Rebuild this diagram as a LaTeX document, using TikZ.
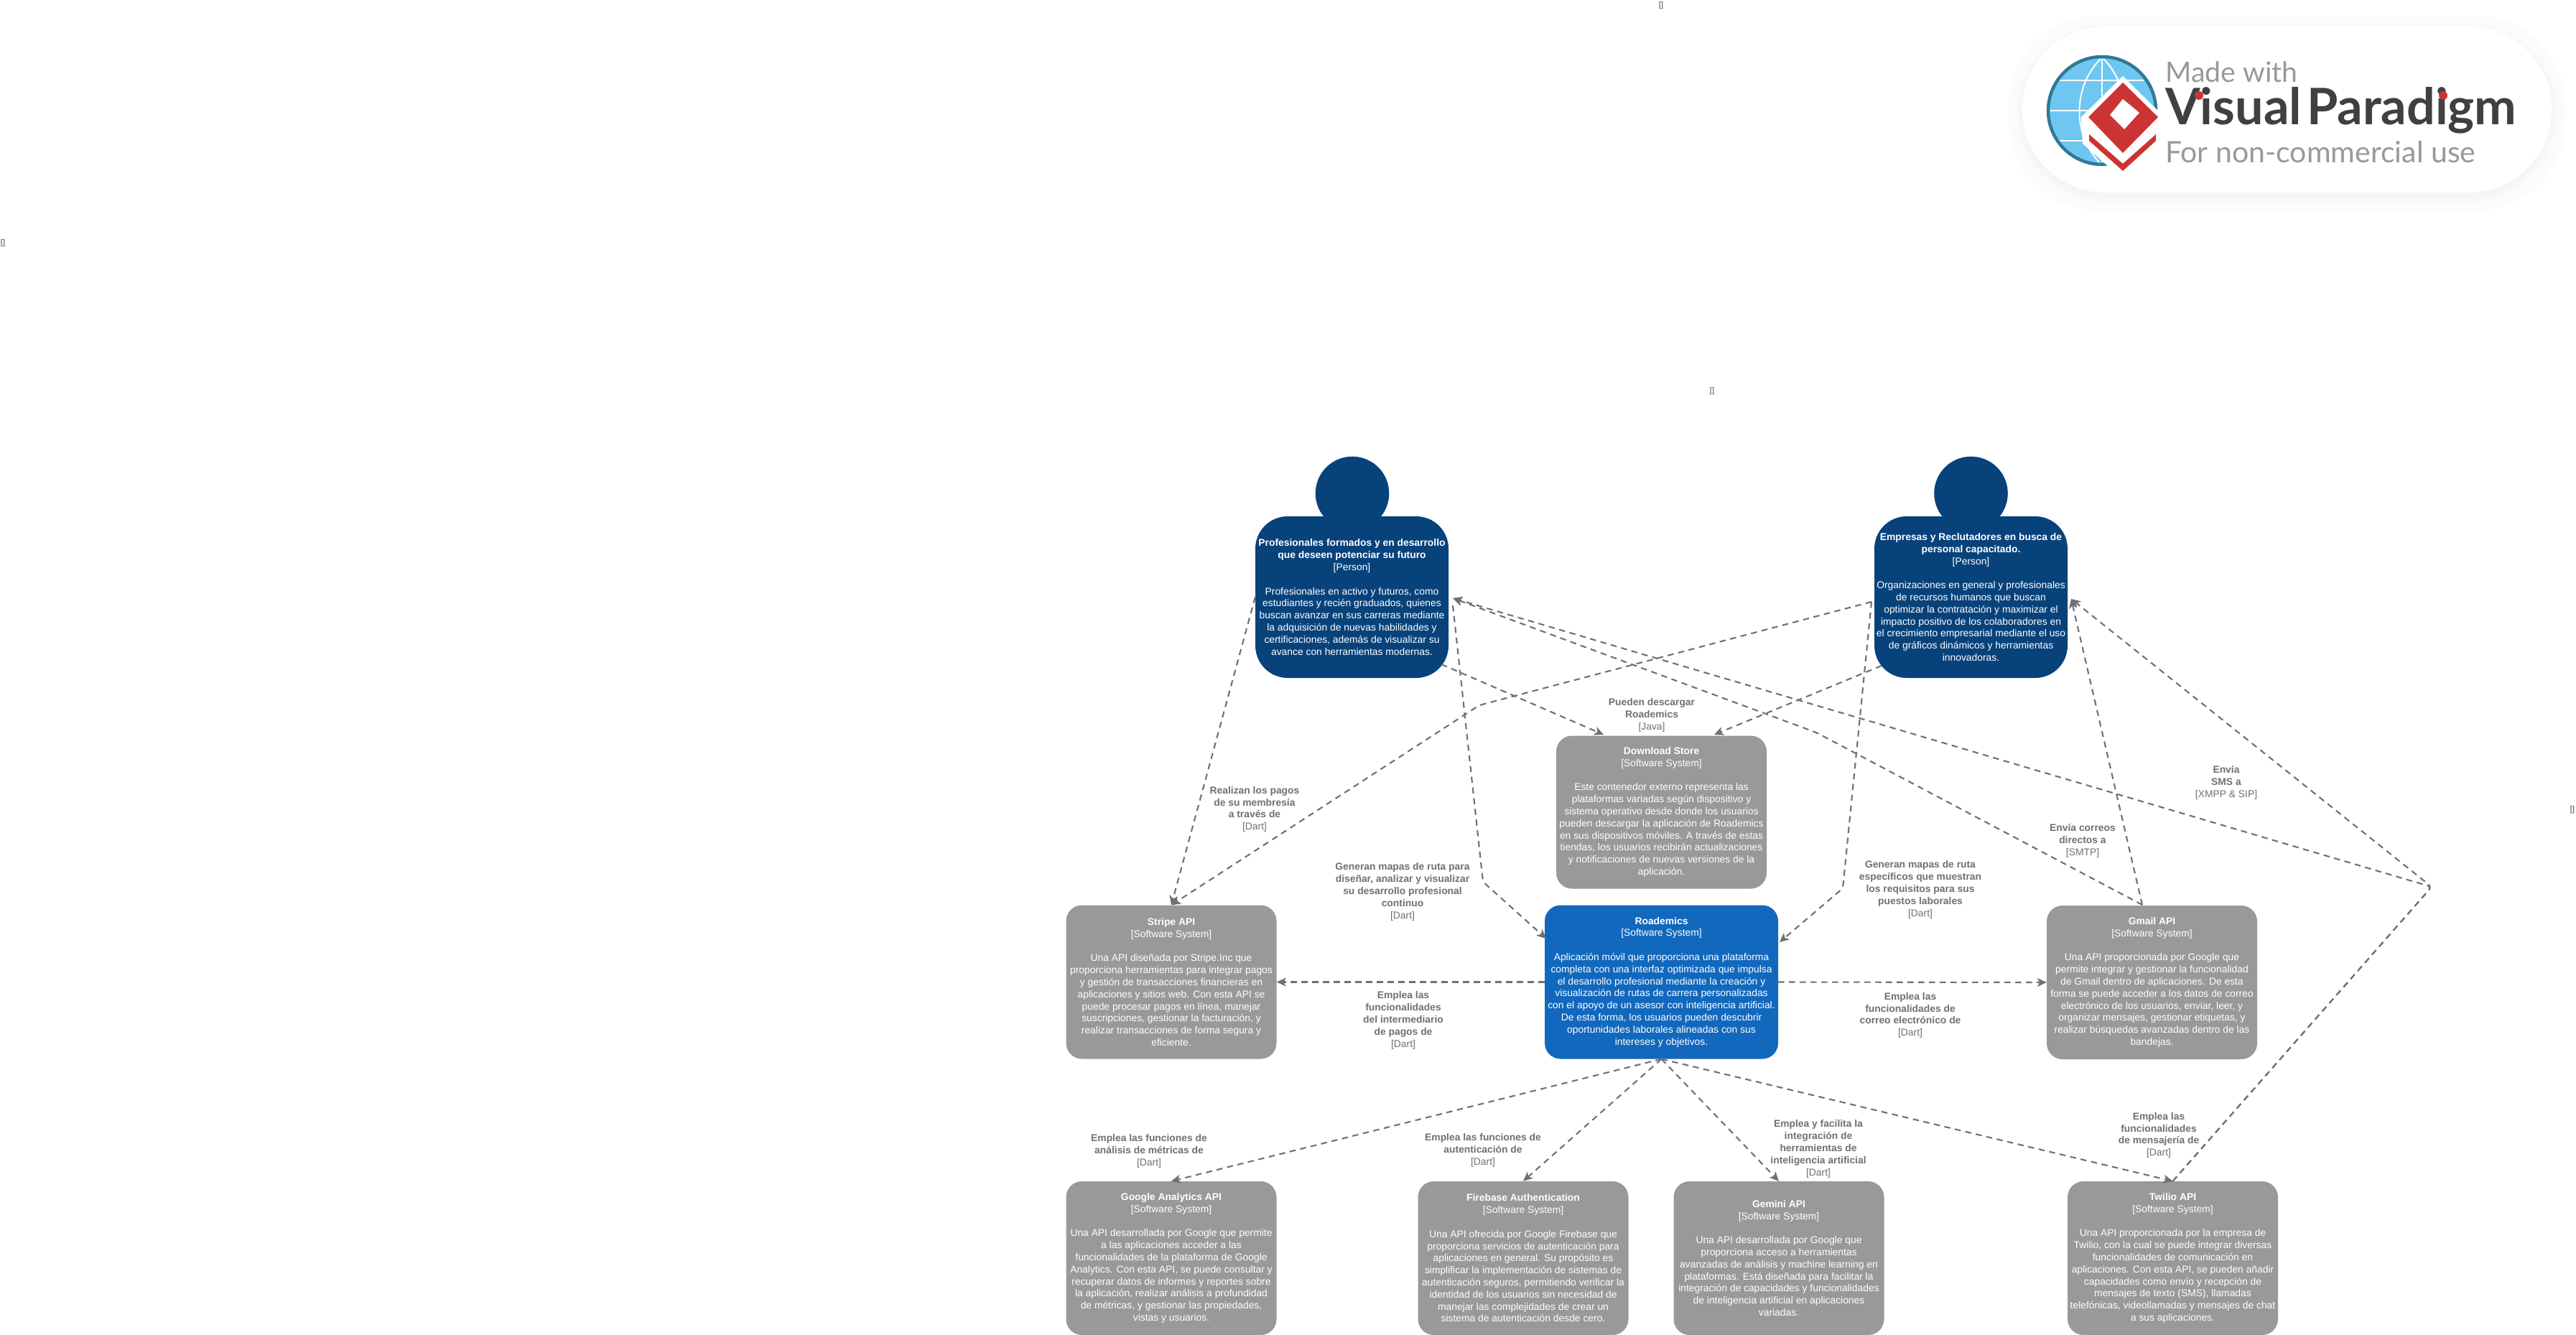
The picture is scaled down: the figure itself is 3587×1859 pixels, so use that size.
\documentclass[tikz,border=0pt]{standalone}
\usepackage{fontspec}
\setmainfont{Liberation Sans}
\newfontfamily\logofont{Lato}
\usetikzlibrary{arrows.meta,calc}
\definecolor{personblue}{HTML}{08427B}
\definecolor{sysblue}{HTML}{1168BD}
\definecolor{extgray}{HTML}{999999}
\definecolor{relgray}{HTML}{707070}
\definecolor{ringteal}{HTML}{2F7A93}
\definecolor{globeblue}{HTML}{6EC6F1}
\definecolor{logored}{HTML}{CC3333}
\newcommand{\bl}[1]{\textbf{#1}}
\newcommand{\cfourtext}[3]{#1\\{[#2]}\\[16.8pt]#3}
\newcommand{\reltext}[2]{#1\\{[#2]}}
\tikzset{
  x=1pt,y=-1pt,
  basefont/.style={font=\fontsize{13.85}{16.8}\selectfont},
  c4box/.style={basefont,rounded corners=22pt,inner sep=0pt,align=center,text=white,minimum width=#1,minimum height=214pt},
  extbox/.style={c4box=293pt,fill=extgray},
  sysbox/.style={c4box=325pt,fill=sysblue},
  personbody/.style={basefont,rounded corners=45pt,inner sep=0pt,align=center,text=white,fill=personblue,minimum width=269pt,minimum height=225pt},
  personhead/.style={circle,fill=personblue,inner sep=0pt,minimum size=102.6pt},
  rel/.style={draw=relgray,line width=2.1pt,dash pattern=on 8.5pt off 6.5pt,rounded corners=6pt},
  relarrow/.style={rel,-{Stealth[length=13pt,width=12pt,inset=3.5pt,sep=0pt]}},
  rellabel/.style={basefont,text=relgray,align=center,inner sep=0pt},
  stub/.style={font=\fontsize{11}{13}\selectfont,text=black!75,inner sep=0pt}
}
\begin{document}
\begin{tikzpicture}
\useasboundingbox (0,0) rectangle (3587,1859);
\fill[white] (0,0) rectangle (3587,1859);

% stray labels
\node[stub] (s1) at (2313,8) {[]};
\node[stub] (s2) at (4,339) {[]};
\node[stub] (s3) at (2384,545) {[]};
\node[stub] (s4) at (3582,1128) {[]};

% watermark
\foreach \g/\e in {1/20,1.5/15,2/11,3/7,4/3}{
  \fill[black!\g!white,rounded corners=125pt] (2816-\e,37-\e+5) rectangle (3553+\e,268+\e+5);
}
\fill[white,rounded corners=115pt] (2816,37) rectangle (3553,268);
\node[circle,draw=ringteal,line width=4.5pt,fill=globeblue,minimum size=150pt,inner sep=0pt] (globe) at (2927,154) {};
\begin{scope}
\clip (2927,154) circle (72);
\draw[white,line width=2pt] (2855,154) -- (3000,154) (2855,112) -- (3000,112) (2855,196) -- (3000,196);
\draw[white,line width=2pt] (2927,80) -- (2927,230);
\draw[white,line width=2pt] (2927,80) .. controls (2885,120) and (2885,190) .. (2927,230);
\draw[white,line width=2pt] (2927,80) .. controls (2969,120) and (2969,190) .. (2927,230);
\end{scope}
\fill[white] (2956,106) -- (3014,163) -- (3012,200) -- (2956,250) -- (2900,200) -- (2898,163) -- cycle;
\fill[logored] (2956,115) -- (3005,163) -- (2956,213) -- (2908,163) -- cycle;
\fill[white] (2956,138) -- (2979,157) -- (2958,180) -- (2938,160) -- cycle;
\fill[logored] (2909,187) -- (2956,228) -- (3002,187) -- (3002,196) -- (2956,238) -- (2909,196) -- cycle;
\node[anchor=west,inner sep=0pt,text=black!40] (vp1) at (3015,100) {\resizebox{184pt}{!}{\logofont Made with}};
\node[anchor=west,inner sep=0pt,text=black!75] (vp2) at (3015,154) {\resizebox{489pt}{!}{\logofont\bfseries Visual\kern.1em Paradigm}};
\node[anchor=west,inner sep=0pt,text=black!40] (vp3) at (3015,212) {\resizebox{432pt}{!}{\logofont For non-commercial use}};

% persons
\node[personhead] (h1) at (1883,687) {};
\node[personhead] (h2) at (2744.5,687) {};
\node[personbody] (p1) at (1882.5,831.5) {\cfourtext{\bl{Profesionales formados y en desarrollo}\\\bl{que deseen potenciar su futuro}}{Person}{Profesionales en activo y futuros, como\\estudiantes y recién graduados, quienes\\buscan avanzar en sus carreras mediante\\la adquisición de nuevas habilidades y\\certificaciones, además de visualizar su\\avance con herramientas modernas.}};
\node[personbody] (p2) at (2744.5,831.5) {\cfourtext{\bl{Empresas y Reclutadores en busca de}\\\bl{personal capacitado.}}{Person}{Organizaciones en general y profesionales\\de recursos humanos que buscan\\optimizar la contratación y maximizar el\\impacto positivo de los colaboradores en\\el crecimiento empresarial mediante el uso\\de gráficos dinámicos y herramientas\\innovadoras.}};

% systems
\node[extbox,minimum height=213pt] (store) at (2313.5,1131) {\cfourtext{\bl{Download Store}}{Software System}{Este contenedor externo representa las\\plataformas variadas según dispositivo y\\sistema operativo desde donde los usuarios\\pueden descargar la aplicación de Roademics\\en sus dispositivos móviles. A través de estas\\tiendas, los usuarios recibirán actualizaciones\\y notificaciones de nuevas versiones de la\\aplicación.}};
\node[sysbox] (road) at (2313.5,1367.5) {\cfourtext{\bl{Roademics}}{Software System}{Aplicación móvil que proporciona una plataforma\\completa con una interfaz optimizada que impulsa\\el desarrollo profesional mediante la creación y\\visualización de rutas de carrera personalizadas\\con el apoyo de un asesor con inteligencia artificial.\\De esta forma, los usuarios pueden descubrir\\oportunidades laborales alineadas con sus\\intereses y objetivos.}};
\node[extbox] (stripe) at (1631,1367.5) {\cfourtext{\bl{Stripe API}}{Software System}{Una API diseñada por Stripe.Inc que\\proporciona herramientas para integrar pagos\\y gestión de transacciones financieras en\\aplicaciones y sitios web. Con esta API se\\puede procesar pagos en línea, manejar\\suscripciones, gestionar la facturación, y\\realizar transacciones de forma segura y\\eficiente.}};
\node[extbox] (gmail) at (2996.5,1368) {\cfourtext{\bl{Gmail API}}{Software System}{Una API proporcionada por Google que\\permite integrar y gestionar la funcionalidad\\de Gmail dentro de aplicaciones. De esta\\forma se puede acceder a los datos de correo\\electrónico de los usuarios, enviar, leer, y\\organizar mensajes, gestionar etiquetas, y\\realizar búsquedas avanzadas dentro de las\\bandejas.}};
\node[extbox] (ga) at (1631,1752) {\cfourtext{\bl{Google Analytics API}}{Software System}{Una API desarrollada por Google que permite\\a las aplicaciones acceder a las\\funcionalidades de la plataforma de Google\\Analytics. Con esta API, se puede consultar y\\recuperar datos de informes y reportes sobre\\la aplicación, realizar análisis a profundidad\\de métricas, y gestionar las propiedades,\\vistas y usuarios.}};
\node[extbox] (fire) at (2121,1752) {\cfourtext{\bl{Firebase Authentication}}{Software System}{Una API ofrecida por Google Firebase que\\proporciona servicios de autenticación para\\aplicaciones en general. Su propósito es\\simplificar la implementación de sistemas de\\autenticación seguros, permitiendo verificar la\\identidad de los usuarios sin necesidad de\\manejar las complejidades de crear un\\sistema de autenticación desde cero.}};
\node[extbox] (gemini) at (2477,1752) {\cfourtext{\bl{Gemini API}}{Software System}{Una API desarrollada por Google que\\proporciona acceso a herramientas\\avanzadas de análisis y machine learning en\\plataformas. Está diseñada para facilitar la\\integración de capacidades y funcionalidades\\de inteligencia artificial en aplicaciones\\variadas.}};
\node[extbox] (twilio) at (3025.5,1752) {\cfourtext{\bl{Twilio API}}{Software System}{Una API proporcionada por la empresa de\\Twilio, con la cual se puede integrar diversas\\funcionalidades de comunicación en\\aplicaciones. Con esta API, se pueden añadir\\capacidades como envío y recepción de\\mensajes de texto (SMS), llamadas\\telefónicas, videollamadas y mensajes de chat\\a sus aplicaciones.}};

% free connector points
\coordinate (p1in) at (2023,833);
\coordinate (p2in) at (2884,834);
\coordinate (p1low) at (2007,925);
\coordinate (p2low) at (2620,927);
\coordinate (p2left) at (2606,838);
\coordinate (p1right) at (2023,843);
\coordinate (p2bend) at (2060,982);
\coordinate (p1bend) at (2065,1228);
\coordinate (p2rbend) at (2566,1237);
\coordinate (gmailbend) at (2529,1020);
\coordinate (gmailtop) at (2983,1260);
\coordinate (smshub) at (3386,1235);
\coordinate (roadin) at (2153,1307);
\coordinate (roadinr) at (2478,1312);
\coordinate (storeinl) at (2233,1023);
\coordinate (storeinr) at (2387,1023);

% connectors
\draw[relarrow] (p1.west) -- (stripe.north);
\draw[relarrow] (p2left) -- (p2bend) -- (stripe.north);
\draw[relarrow] (p1low) -- (storeinl);
\draw[relarrow] (p2low) -- (storeinr);
\draw[relarrow] (p1right) -- (p1bend) -- (roadin);
\draw[relarrow] (p2left) -- (p2rbend) -- (roadinr);
\draw[relarrow] (road.west) -- (stripe.east);
\draw[relarrow] (road.east) -- (gmail.west);
\draw[relarrow] (road.south) -- (ga.north);
\draw[relarrow] (road.south) -- (fire.north);
\draw[relarrow] (road.south) -- (gemini.north);
\draw[relarrow] (road.south) -- (twilio.north);
\draw[relarrow] (gmailtop) -- (gmailbend) -- (p1in);
\draw[relarrow] (gmailtop) -- (p2in);
\draw[relarrow] (twilio.north) -- (smshub) -- (p2in);
\draw[relarrow] (twilio.north) -- (smshub) -- (p1in);

% connector labels
\node[rellabel] (l1) at (2300,996) {\reltext{\bl{Pueden descargar}\\\bl{Roademics}}{Java}};
\node[rellabel] (l2) at (1747,1127) {\reltext{\bl{Realizan los pagos}\\\bl{de su membresía}\\\bl{a través de}}{Dart}};
\node[rellabel] (l3) at (1953,1242) {\reltext{\bl{Generan mapas de ruta para}\\\bl{diseñar, analizar y visualizar}\\\bl{su desarrollo profesional}\\\bl{continuo}}{Dart}};
\node[rellabel] (l4) at (2674,1239) {\reltext{\bl{Generan mapas de ruta}\\\bl{específicos que muestran}\\\bl{los requisitos para sus}\\\bl{puestos laborales}}{Dart}};
\node[rellabel] (l5) at (2900,1171) {\reltext{\bl{Envía correos}\\\bl{directos a}}{SMTP}};
\node[rellabel] (l6) at (3100,1090) {\reltext{\bl{Envía}\\\bl{SMS a}}{XMPP \& SIP}};
\node[rellabel] (l7) at (1954,1421) {\reltext{\bl{Emplea las}\\\bl{funcionalidades}\\\bl{del intermediario}\\\bl{de pagos de}}{Dart}};
\node[rellabel] (l8) at (2660,1414) {\reltext{\bl{Emplea las}\\\bl{funcionalidades de}\\\bl{correo electrónico de}}{Dart}};
\node[rellabel] (l9) at (1600,1603) {\reltext{\bl{Emplea las funciones de}\\\bl{análisis de métricas de}}{Dart}};
\node[rellabel] (l10) at (2065,1602) {\reltext{\bl{Emplea las funciones de}\\\bl{autenticación de}}{Dart}};
\node[rellabel] (l11) at (2532,1600) {\reltext{\bl{Emplea y facilita la}\\\bl{integración de}\\\bl{herramientas de}\\\bl{inteligencia artificial}}{Dart}};
\node[rellabel] (l12) at (3006,1581) {\reltext{\bl{Emplea las}\\\bl{funcionalidades}\\\bl{de mensajería de}}{Dart}};
\fill[logored] (3062,133) circle (6) (3402,133) circle (6);
\end{tikzpicture}
\end{document}
